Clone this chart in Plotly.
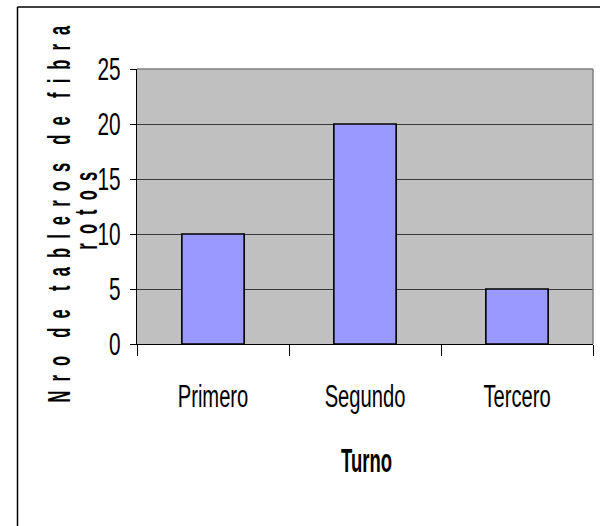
import plotly.graph_objects as go

categories = ["Primero", "Segundo", "Tercero"]
values = [10, 20, 5]
y_ticks = [0, 5, 10, 15, 20, 25]
y_title_line1 = "Nro de tableros de fibra"
y_title_line2 = "rotos"
x_title = "Turno"

FONT = "Liberation Sans, Arial, sans-serif"
NB = "\u00a0"


def spaced(s):
    words = s.split(" ")
    return (NB * 4).join((NB * 2).join(list(w)) for w in words)


fig = go.Figure()
fig.add_trace(go.Bar(
    x=categories, y=values,
    marker=dict(color="#9999FF", line=dict(color="black", width=1.6)),
    width=0.41,
))

W, H = 600, 526
L, R, T, B = 137, 7, 69, 182
pw, ph = W - L - R, H - T - B


def px(x):
    return (x - L) / pw


def py(y):
    return (H - B - y) / ph


fig.update_layout(
    width=W, height=H,
    margin=dict(l=L, r=R, t=T, b=B),
    paper_bgcolor="white",
    plot_bgcolor="#C0C0C0",
    showlegend=False,
    font=dict(family=FONT, color="black", size=31),
    xaxis=dict(
        type="category",
        tickson="boundaries",
        ticks="outside", ticklen=11, tickcolor="black", tickwidth=1,
        showline=True, linecolor="black", linewidth=1,
        showgrid=False,
        tickfont=dict(family=FONT, size=31),
        ticklabelstandoff=25,
        range=[-0.5, 2.5],
    ),
    yaxis=dict(
        range=[0, 25],
        tickvals=y_ticks,
        ticks="outside", ticklen=6, tickcolor="black", tickwidth=1,
        showline=True, linecolor="black", linewidth=1,
        showgrid=True, gridcolor="#3a3a3a", gridwidth=1,
        zeroline=False,
        tickfont=dict(family=FONT, size=32),
        ticklabelstandoff=3,
    ),
    shapes=[
        dict(type="line", xref="paper", yref="paper",
             x0=px(17.5), x1=px(640), y0=py(7), y1=py(7),
             line=dict(color="black", width=1.5)),
        dict(type="line", xref="paper", yref="paper",
             x0=px(17.5), x1=px(17.5), y0=py(7), y1=py(560),
             line=dict(color="black", width=1.5)),
        dict(type="line", xref="paper", yref="paper",
             x0=0, x1=1, y0=1, y1=1, line=dict(color="#808080", width=1.5)),
        dict(type="line", xref="paper", yref="paper",
             x0=1, x1=1, y0=0, y1=1, line=dict(color="#808080", width=1.5)),
    ],
    annotations=[
        dict(text=spaced(y_title_line1),
             xref="paper", yref="paper", x=px(59), y=py(214),
             xanchor="center", yanchor="middle", textangle=-90,
             showarrow=False,
             font=dict(family=FONT, size=31, color="black", weight="bold")),
        dict(text=spaced(y_title_line2),
             xref="paper", yref="paper", x=px(86), y=py(211),
             xanchor="center", yanchor="middle", textangle=-90,
             showarrow=False,
             font=dict(family=FONT, size=31, color="black", weight="bold")),
        dict(text=x_title, xref="paper", yref="paper",
             x=px(366), y=py(460), xanchor="center", yanchor="middle",
             showarrow=False,
             font=dict(family=FONT, size=33, color="black", weight="bold")),
    ],
)

post = """
document.body.style.margin = '0';
var gd = document.getElementById('{plot_id}');
function squeeze(el, f) {
  var len = el.getComputedTextLength();
  el.setAttribute('textLength', (len * f).toFixed(2));
  el.setAttribute('lengthAdjust', 'spacingAndGlyphs');
}
gd.querySelectorAll('.xtick text, .ytick text').forEach(function (el) { squeeze(el, 0.65); });
function hscale(el, f) {
  var len = el.getComputedTextLength();
  var x = parseFloat(el.getAttribute('x') || 0);
  var old = el.getAttribute('transform') || '';
  el.setAttribute('transform', old + ' translate(' + x + ',0) scale(' + f + ',1) translate(' + (-x) + ',0)');
  var rect = el.parentNode.querySelector('rect.bg');
  if (rect) {
    var w = parseFloat(rect.getAttribute('width'));
    var nw = w - len * (1 - f);
    var rx = parseFloat(rect.getAttribute('x') || 0);
    rect.setAttribute('x', (rx + (w - nw) / 2).toFixed(2));
    rect.setAttribute('width', nw.toFixed(2));
  }
}
var anns = gd.querySelectorAll('text.annotation-text');
var f1 = 0.55;
anns.forEach(function (el) {
  var t = el.textContent.replace(/\\u00a0/g, '');
  if (t.indexOf('Nro') === 0) { f1 = 377 / el.getComputedTextLength(); }
});
anns.forEach(function (el) {
  var t = el.textContent.replace(/\\u00a0/g, '');
  if (t.indexOf('Turno') === 0) { hscale(el, 0.56); } else { hscale(el, f1); }
});
"""

fig.write_html("out.html", post_script=post, config={"displayModeBar": False})
